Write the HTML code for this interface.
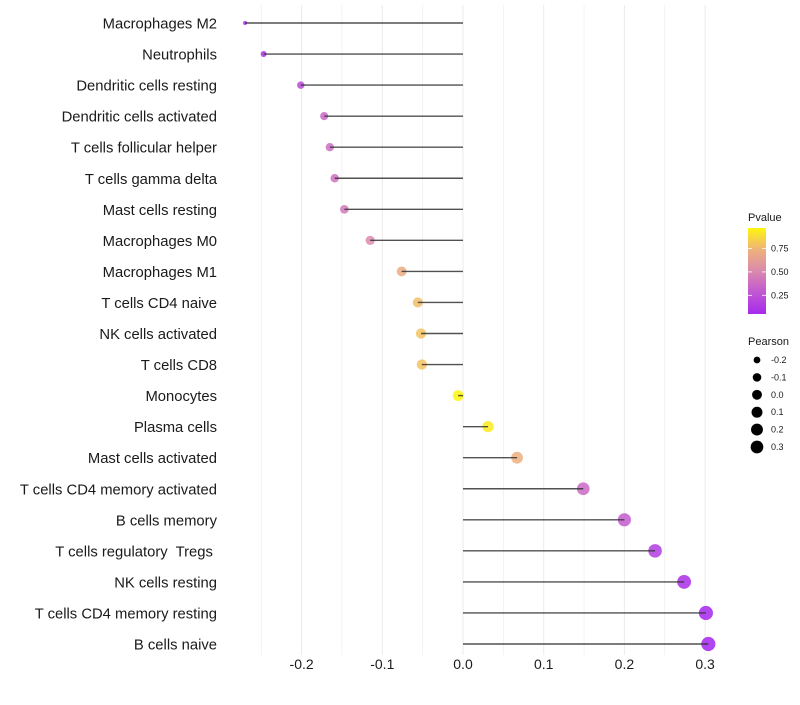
<!DOCTYPE html>
<html><head><meta charset="utf-8"><style>
body{margin:0;background:#fff;font-family:"Liberation Sans",sans-serif}
svg text{font-family:"Liberation Sans",sans-serif;white-space:pre}
</style></head><body>
<svg id="chart" width="800" height="700" xmlns="http://www.w3.org/2000/svg">
<g id="grid"></g>
<g id="points"></g>
<g id="stems"></g>
<g id="ylabels"></g>
<g id="xlabels"></g>
<g id="legend"></g>
</svg>
<script>
const categories=["Macrophages M2","Neutrophils","Dendritic cells resting","Dendritic cells activated","T cells follicular helper","T cells gamma delta","Mast cells resting","Macrophages M0","Macrophages M1","T cells CD4 naive","NK cells activated","T cells CD8","Monocytes","Plasma cells","Mast cells activated","T cells CD4 memory activated","B cells memory","T cells regulatory  Tregs ","NK cells resting","T cells CD4 memory resting","B cells naive"];
const pearson=[-0.270,-0.247,-0.201,-0.172,-0.165,-0.159,-0.147,-0.115,-0.076,-0.056,-0.052,-0.051,-0.006,0.031,0.067,0.149,0.200,0.238,0.274,0.301,0.304];
const pvalue=[0.05,0.10,0.22,0.35,0.38,0.40,0.43,0.52,0.70,0.78,0.80,0.80,0.97,0.93,0.72,0.36,0.30,0.15,0.08,0.03,0.02];
const xTicks=[-0.2,-0.1,0.0,0.1,0.2,0.3];
const xTickLabels=["-0.2","-0.1","0.0","0.1","0.2","0.3"];
const pTicks=[0.25,0.50,0.75];
const sizeLegend=[-0.2,-0.1,0.0,0.1,0.2,0.3];
const sizeLegendLabels=["-0.2","-0.1","0.0","0.1","0.2","0.3"];

const NS="http://www.w3.org/2000/svg";
const xs=v=>463+v*807;
const ys=i=>23+i*31.05;
const rs=v=>2+6.7*Math.sqrt(Math.max(0,v+0.27));
function mix(a,b,t){return a.map((c,i)=>Math.round(c+(b[i]-c)*t));}
const cstops=[[0,[160,32,240]],[0.25,[190,80,215]],[0.5,[217,135,175]],[0.75,[240,180,120]],[1,[255,255,0]]];
function col(p){
  let t=Math.max(0,Math.min(1,p)),k=0;
  while(k<cstops.length-2&&t>cstops[k+1][0])k++;
  const a=cstops[k],b=cstops[k+1];
  const c=mix(a[1],b[1],(t-a[0])/(b[0]-a[0]));
  return `rgb(${c[0]},${c[1]},${c[2]})`;
}
function el(tag,attrs,parent){const e=document.createElementNS(NS,tag);for(const k in attrs)e.setAttribute(k,attrs[k]);parent.appendChild(e);return e;}
const grid=document.getElementById('grid'),pts=document.getElementById('points'),stems=document.getElementById('stems'),yl=document.getElementById('ylabels'),xl=document.getElementById('xlabels'),lg=document.getElementById('legend');
for(let v=-0.25;v<=0.301;v+=0.05){
  const g=el('line',{x1:xs(v),x2:xs(v),y1:5,y2:655,stroke:'#ebebeb','stroke-width':Math.abs(Math.round(v*20))%2===0?1:0.6},grid);
  
  
}
categories.forEach((c,i)=>{
  const y=ys(i);
  const t=el('text',{x:217,y:y+5.5,'text-anchor':'end','font-size':14.8,fill:'#1a1a1a'},yl);t.textContent=c;
  
  
  const cc=el('circle',{cx:xs(pearson[i]),cy:y,r:rs(pearson[i]),fill:col(pvalue[i]),'fill-opacity':0.85},pts);
  
  
  const ln=el('line',{x1:xs(0),x2:xs(pearson[i]),y1:y,y2:y,stroke:'#333','stroke-width':1.4,'stroke-opacity':0.85},stems);
  
  
});
xTicks.forEach((v,i)=>{
  const t=el('text',{x:xs(v),y:669,'text-anchor':'middle','font-size':14,fill:'#1a1a1a'},xl);t.textContent=xTickLabels[i];
  
  
});
const tt=el('text',{x:748,y:221,'font-size':11,fill:'#1a1a1a'},lg);tt.textContent='Pvalue';


const defs=el('defs',{},lg);
const gr=el('linearGradient',{id:'pg',x1:0,y1:1,x2:0,y2:0},defs);
[0,0.25,0.5,0.75,1].forEach(o=>el('stop',{offset:o,'stop-color':col(0.05+o*0.92)},gr));
const bar=el('rect',{x:748,y:228,width:18,height:86,fill:'url(#pg)'},lg);


const py=p=>314-(p-0.05)/0.92*86;
pTicks.forEach(p=>{
  el('line',{x1:748,x2:752,y1:py(p),y2:py(p),stroke:'#fff','stroke-width':0.8},lg);
  el('line',{x1:762,x2:766,y1:py(p),y2:py(p),stroke:'#fff','stroke-width':0.8},lg);
  const t=el('text',{x:771,y:py(p)+3,'font-size':9,fill:'#1a1a1a'},lg);t.textContent=p.toFixed(2);
  
  
});
const st=el('text',{x:748,y:345,'font-size':11,fill:'#1a1a1a'},lg);st.textContent='Pearson';


sizeLegend.forEach((v,i)=>{
  const y=360+i*17.4;
  const c=el('circle',{cx:757,cy:y,r:rs(v)*0.9,fill:'#000'},lg);
  
  
  const t=el('text',{x:771,y:y+3,'font-size':9,fill:'#1a1a1a'},lg);t.textContent=sizeLegendLabels[i];
  
  
});
</script>
</body></html>
